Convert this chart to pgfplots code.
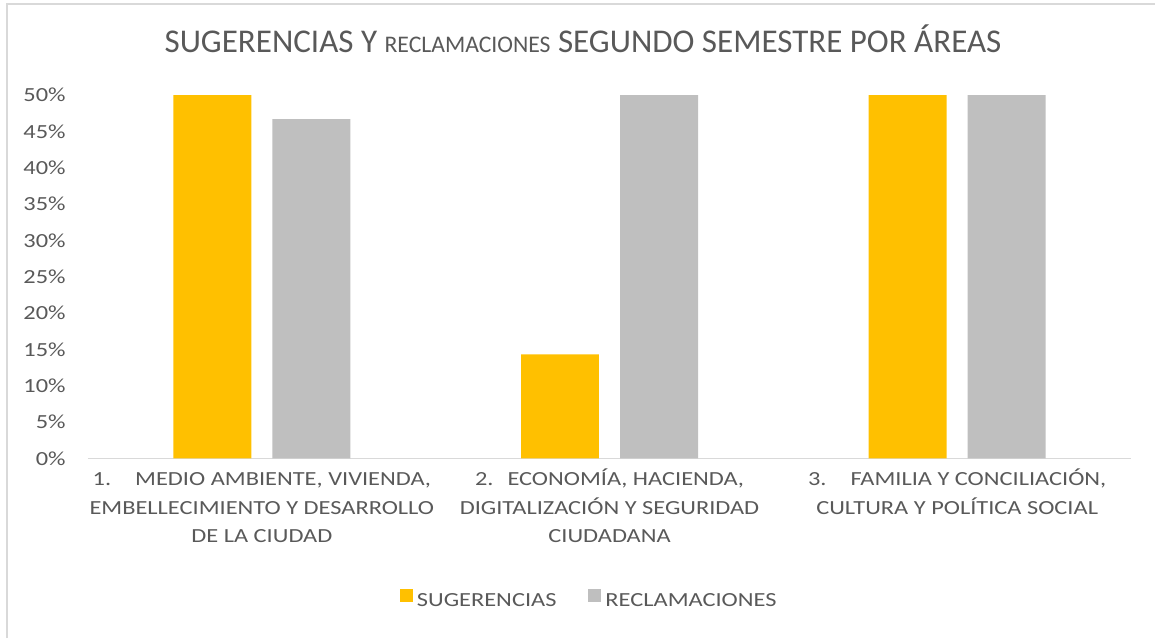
\documentclass[border=0pt]{standalone}
\usepackage{fontspec}
\setmainfont{Carlito}[FakeStretch=1.22]
\newfontfamily\titlefont{Carlito}[FakeStretch=0.995]
\usepackage{pgfplots}
\pgfplotsset{compat=1.18}
\definecolor{cYel}{HTML}{FFC000}
\definecolor{cGry}{HTML}{BFBFBF}
\definecolor{cTxt}{HTML}{595959}
\definecolor{cAx}{HTML}{D9D9D9}
\begin{document}
\begin{tikzpicture}
\path[use as bounding box] (0,0) rectangle (577.5pt,319pt);
\draw[cAx, line width=0.8pt] (3.5pt,0) -- (3.5pt,317pt) -- (577.5pt,317pt);
\node[anchor=base, text=cTxt, inner sep=0pt, font=\titlefont\fontsize{16.6}{18}\selectfont] at (291.5pt,292.5pt)
  {SUGERENCIAS Y {\fontsize{11.9}{12}\selectfont RECLAMACIONES} SEGUNDO SEMESTRE POR ÁREAS};
\begin{axis}[
  at={(44pt,89.85pt)}, anchor=south west,
  scale only axis, width=521.5pt, height=181.65pt,
  xmin=-0.5, xmax=2.5, ymin=0, ymax=50,
  axis x line*=bottom, axis y line*=left,
  x axis line style={cAx, line width=0.8pt, -},
  y axis line style={draw=none},
  ytick={0,5,...,50},
  yticklabel={\pgfmathprintnumber{\tick}\%},
  /pgf/number format/assume math mode=true,
  yticklabel style={anchor=east, inner sep=0pt, xshift=-11pt, text=cTxt, font=\fontsize{10}{12}\selectfont},
  major tick length=0pt,
  xtick={0,1,2},
  xticklabels={
    {\rule{0pt}{12pt}1.\hspace{12pt}MEDIO AMBIENTE, VIVIENDA,\\EMBELLECIMIENTO Y DESARROLLO\\DE LA CIUDAD},
    {\rule{0pt}{12pt}2.\hspace{7pt}ECONOMÍA, HACIENDA,\\DIGITALIZACIÓN Y SEGURIDAD\\CIUDADANA},
    {\rule{0pt}{12pt}3.\hspace{12pt}FAMILIA Y CONCILIACIÓN,\\CULTURA Y POLÍTICA SOCIAL}},
  xticklabel style={align=center, anchor=north, inner sep=0pt, yshift=-1.5pt, text=cTxt, font=\fontsize{10}{14.15}\selectfont},
  ybar, bar width=0.2243,
  clip=true,
  legend columns=2,
  legend style={at={(axis description cs:0.4815,-0.394)}, anchor=center, draw=none, fill=none,
    font=\fontsize{10}{12}\selectfont, text=cTxt,
    /tikz/every even column/.append style={column sep=14pt}},
  legend image code/.code={\fill[#1] (0pt,0pt) rectangle (6.5pt,6.2pt);},
]
\addplot[fill=cYel, draw=none, bar shift=-0.1424] coordinates {(0,50) (1,14.29) (2,50)};
\addlegendentry{SUGERENCIAS}
\addplot[fill=cGry, draw=none, bar shift=0.1424] coordinates {(0,46.67) (1,50) (2,50)};
\addlegendentry{RECLAMACIONES}
\end{axis}
\end{tikzpicture}
\end{document}
